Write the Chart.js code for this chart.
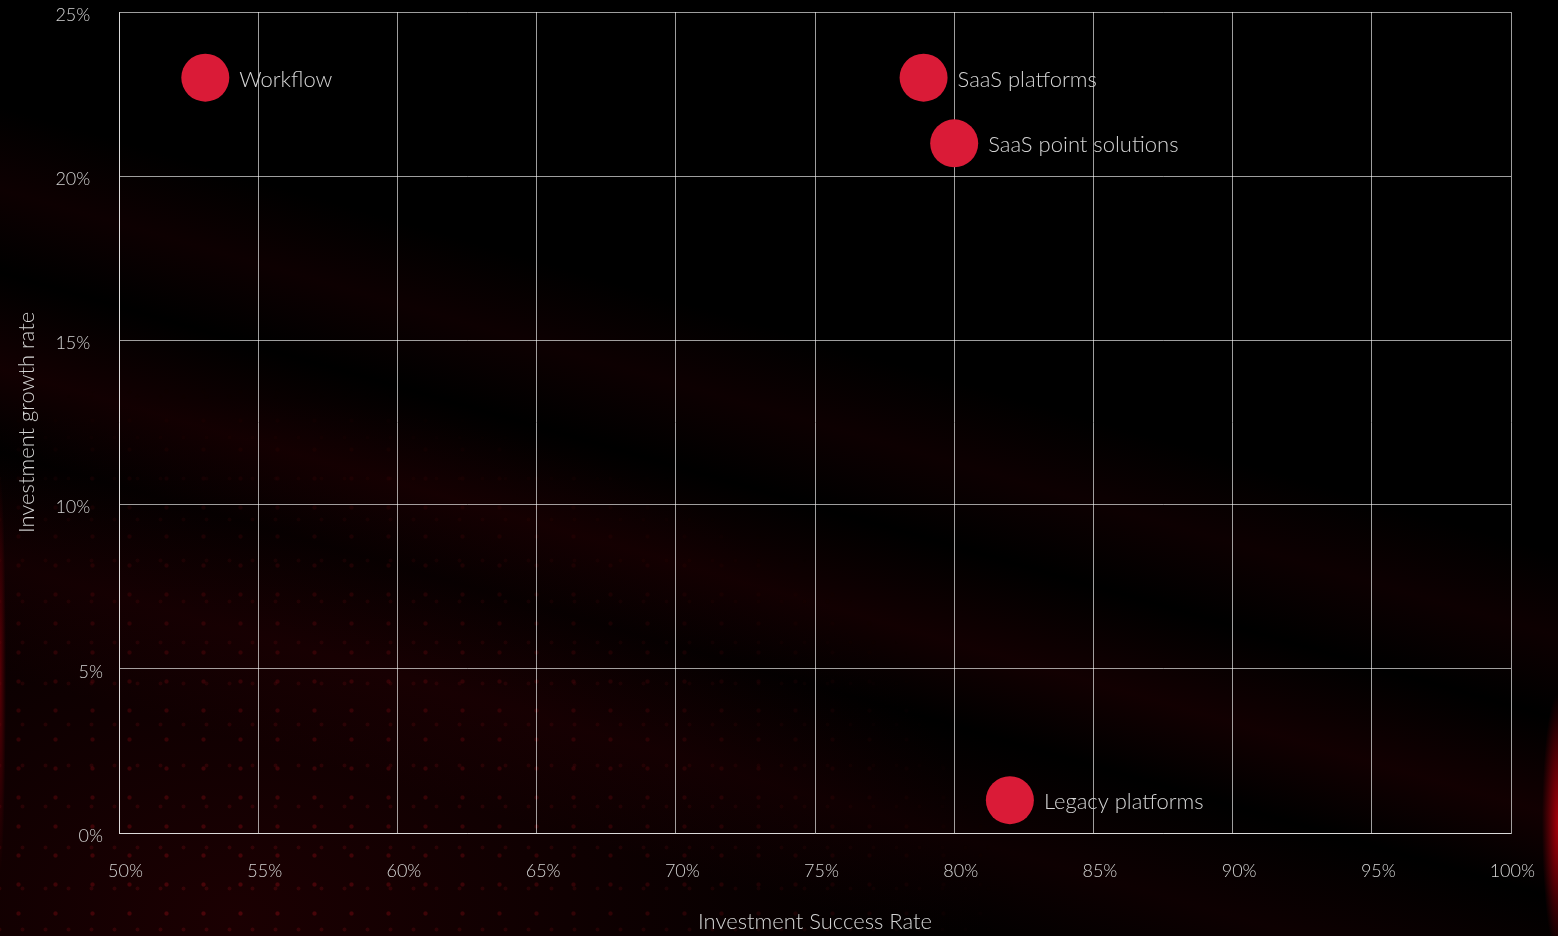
<!DOCTYPE html>
<html lang="en">
<head>
    <meta charset="UTF-8">
    <title>Investment success vs growth</title>
    <script src="https://cdn.jsdelivr.net/npm/chart.js"></script>
    <style>
        html, body {
            margin: 0;
            padding: 0;
            background: #000;
            overflow: hidden;
        }
        .wrap {
            position: relative;
            width: 1558px;
            height: 936px;
            background:
                radial-gradient(ellipse 16px 130px at 100% 88%, rgba(190, 0, 12, 0.85), transparent),
                radial-gradient(ellipse 6px 200px at 0% 72%, rgba(150, 0, 10, 0.55), transparent),
                linear-gradient(196deg, transparent 40%, rgba(60, 0, 5, 0.22) 46%, transparent 52%, rgba(70, 0, 5, 0.26) 59%, transparent 65%, rgba(60, 0, 5, 0.22) 73%, transparent 81%),
                radial-gradient(ellipse at 15% 98%, rgba(60, 0, 4, 0.45), transparent 40%),
                #000;
        }
        .dots {
            position: absolute;
            inset: 0;
            background-image:
                radial-gradient(circle, rgba(140, 10, 20, 0.45) 1.6px, transparent 2.6px),
                radial-gradient(circle, rgba(120, 10, 20, 0.35) 1.4px, transparent 2.4px);
            background-size: 37px 29px, 23px 41px;
            background-position: 0 0, 11px 7px;
            -webkit-mask-image: radial-gradient(ellipse at 15% 100%, #000 0%, rgba(0,0,0,0.5) 25%, transparent 42%);
            mask-image: radial-gradient(ellipse at 15% 100%, #000 0%, rgba(0,0,0,0.5) 25%, transparent 42%);
        }
        canvas {
            position: absolute;
            left: 0;
            top: 0;
        }
    </style>
</head>
<body>
    <div class="wrap">
        <div class="dots"></div>
        <canvas id="myChart" width="1558" height="936"></canvas>
    </div>
    <script>
        const categories = ['Workflow', 'SaaS platforms', 'SaaS point solutions', 'Legacy platforms'];
        const successRate = [53.1, 78.9, 80, 82];
        const growthRate = [23, 23, 21, 1];
        const xMin = 50, xMax = 100, xStep = 5;
        const yMin = 0, yMax = 25, yStep = 5;

        const textColor = '#d4d4d4';
        const gridColor = 'rgba(255, 255, 255, 0.62)';
        const fontFamily = "Lato, 'Open Sans', sans-serif";

        const points = categories.map((name, i) => ({ x: successRate[i], y: growthRate[i], name: name }));

        // writes the category name beside each bubble
        const pointLabels = {
            id: 'pointLabels',
            afterDatasetsDraw(chart) {
                const ctx = chart.ctx;
                const meta = chart.getDatasetMeta(0);
                ctx.save();
                ctx.font = '300 22px ' + fontFamily;
                ctx.fillStyle = textColor;
                ctx.textBaseline = 'middle';
                meta.data.forEach((el, i) => {
                    ctx.fillText(categories[i], el.x + 34, el.y + 2);
                });
                ctx.restore();
            }
        };

        const ctx = document.getElementById('myChart').getContext('2d');
        new Chart(ctx, {
            type: 'scatter',
            data: {
                datasets: [{
                    label: 'Segments',
                    data: points,
                    backgroundColor: '#da1b37',
                    borderWidth: 0,
                    pointRadius: 24,
                    pointHoverRadius: 24
                }]
            },
            options: {
                responsive: false,
                animation: false,
                layout: {
                    autoPadding: false,
                    padding: { top: 12, right: 47, left: 0, bottom: 0 }
                },
                plugins: {
                    legend: { display: false },
                    tooltip: { enabled: false }
                },
                scales: {
                    x: {
                        type: 'linear',
                        min: xMin,
                        max: xMax,
                        afterFit: s => { s.height = 103; s.paddingLeft = 0; s.paddingRight = 0; },
                        grid: { color: gridColor, drawTicks: false },
                        border: { color: gridColor },
                        ticks: {
                            stepSize: xStep,
                            padding: 27,
                            align: 'end',
                            labelOffset: 24,
                            color: textColor,
                            font: { family: fontFamily, size: 18, weight: 300 },
                            callback: v => v + '%'
                        },
                        title: {
                            display: true,
                            text: 'Investment Success Rate',
                            color: textColor,
                            padding: { top: 0, bottom: 1 },
                            font: { family: fontFamily, size: 22, weight: 300 }
                        }
                    },
                    y: {
                        type: 'linear',
                        min: yMin,
                        max: yMax,
                        afterFit: s => { s.width = 119; s.paddingTop = 0; s.paddingBottom = 0; },
                        grid: { color: gridColor, drawTicks: false },
                        border: { color: gridColor },
                        ticks: {
                            stepSize: yStep,
                            padding: 16,
                            labelOffset: 3,
                            color: textColor,
                            font: { family: fontFamily, size: 18, weight: 300 },
                            // the two-digit labels sit further left in the original
                            callback: v => v >= 10 ? v + '%\u2007\u2009' : v + '%'
                        },
                        title: {
                            display: true,
                            text: 'Investment growth rate',
                            color: textColor,
                            padding: { top: 14, bottom: 0 },
                            font: { family: fontFamily, size: 22, weight: 300 }
                        }
                    }
                }
            },
            plugins: [pointLabels]
        });
    </script>
</body>
</html>
